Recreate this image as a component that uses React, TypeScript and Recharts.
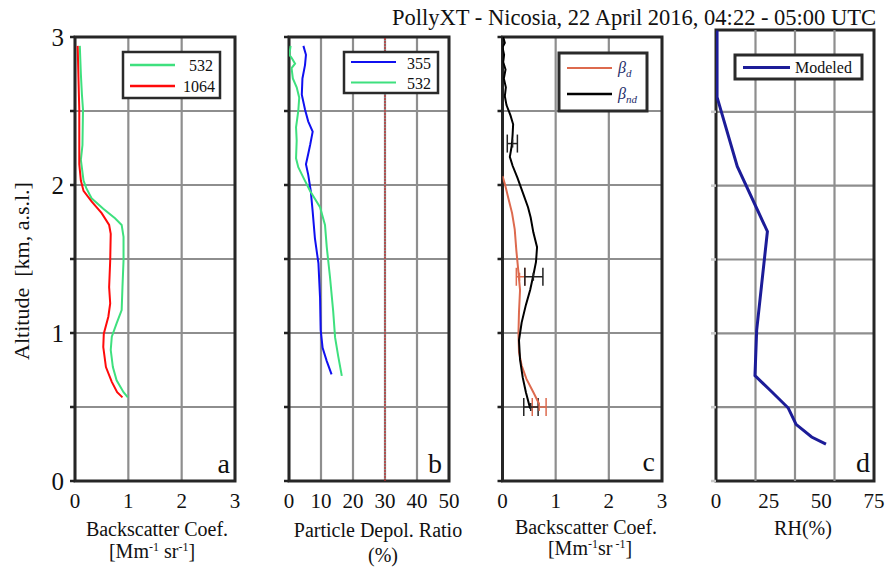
import React from 'react';
import {
  ScatterChart,
  Scatter,
  XAxis,
  YAxis,
  CartesianGrid,
  ReferenceLine,
  ReferenceArea,
  ErrorBar,
} from 'recharts';

const W = 885;
const H = 568;
const PLOT_BOTTOM = 481;
const FONT = '"Liberation Serif", "Times New Roman", serif';

// ---- tick labels ----
const altTicks = [0, 0.5, 1, 1.5, 2, 2.5, 3];
const altTicksD = [0, 0.5, 1, 1.5, 2, 2.5];
const bscTicks = [0, 1, 2, 3];
const depolTicks = [0, 10, 20, 30, 40, 50];
const rhTicks = [0, 25, 50, 75];
const rhGridLines = [18.75, 37.5, 56.25];

// ---- panel a: backscatter coefficient (Mm-1 sr-1) ----
const bsc532 = [
  { alt: 2.94, v: 0.09 }, { alt: 2.75, v: 0.11 }, { alt: 2.61, v: 0.13 }, { alt: 2.51, v: 0.15 },
  { alt: 2.27, v: 0.14 }, { alt: 2.17, v: 0.11 }, { alt: 2.03, v: 0.16 }, { alt: 1.98, v: 0.21 },
  { alt: 1.91, v: 0.31 }, { alt: 1.84, v: 0.53 }, { alt: 1.775, v: 0.75 }, { alt: 1.73, v: 0.875 },
  { alt: 1.65, v: 0.91 }, { alt: 1.49, v: 0.91 }, { alt: 1.31, v: 0.89 }, { alt: 1.155, v: 0.875 },
  { alt: 1.065, v: 0.78 }, { alt: 0.975, v: 0.69 }, { alt: 0.885, v: 0.67 }, { alt: 0.77, v: 0.71 },
  { alt: 0.68, v: 0.78 }, { alt: 0.6, v: 0.91 }, { alt: 0.565, v: 0.99 },
];
const bsc1064 = [
  { alt: 2.94, v: 0.05 }, { alt: 2.51, v: 0.08 }, { alt: 2.14, v: 0.08 }, { alt: 2.03, v: 0.11 },
  { alt: 1.96, v: 0.16 }, { alt: 1.89, v: 0.31 }, { alt: 1.81, v: 0.5 }, { alt: 1.73, v: 0.64 },
  { alt: 1.67, v: 0.67 }, { alt: 1.49, v: 0.66 }, { alt: 1.31, v: 0.64 }, { alt: 1.2, v: 0.66 },
  { alt: 1.11, v: 0.625 }, { alt: 0.995, v: 0.54 }, { alt: 0.905, v: 0.53 }, { alt: 0.77, v: 0.58 },
  { alt: 0.67, v: 0.69 }, { alt: 0.6, v: 0.79 }, { alt: 0.565, v: 0.89 },
];

// ---- panel b: particle depolarization ratio (%) ----
const depol355 = [
  { alt: 2.94, v: 4.5 }, { alt: 2.88, v: 5.3 }, { alt: 2.81, v: 5.0 }, { alt: 2.72, v: 4.2 },
  { alt: 2.61, v: 4.0 }, { alt: 2.51, v: 5.0 }, { alt: 2.43, v: 6.0 }, { alt: 2.36, v: 7.4 },
  { alt: 2.27, v: 6.6 }, { alt: 2.21, v: 6.0 }, { alt: 2.14, v: 5.3 }, { alt: 2.07, v: 6.0 },
  { alt: 1.96, v: 6.8 }, { alt: 1.82, v: 7.4 }, { alt: 1.64, v: 8.1 }, { alt: 1.47, v: 9.2 },
  { alt: 1.24, v: 9.7 }, { alt: 1.02, v: 9.9 }, { alt: 0.9, v: 10.5 }, { alt: 0.81, v: 11.8 },
  { alt: 0.72, v: 13.3 },
];
const depol532 = [
  { alt: 2.94, v: 0.5 }, { alt: 2.88, v: 0.1 }, { alt: 2.86, v: 0.8 }, { alt: 2.82, v: 1.9 },
  { alt: 2.79, v: 0.8 }, { alt: 2.72, v: 1.2 }, { alt: 2.66, v: 2.4 }, { alt: 2.59, v: 3.2 },
  { alt: 2.5, v: 2.9 }, { alt: 2.39, v: 2.2 }, { alt: 2.3, v: 2.4 }, { alt: 2.18, v: 2.2 },
  { alt: 2.12, v: 2.9 }, { alt: 2.05, v: 4.5 }, { alt: 1.96, v: 6.6 }, { alt: 1.85, v: 9.7 },
  { alt: 1.73, v: 11.25 }, { alt: 1.58, v: 11.8 }, { alt: 1.38, v: 12.8 }, { alt: 1.15, v: 13.8 },
  { alt: 0.97, v: 14.4 }, { alt: 0.84, v: 15.4 }, { alt: 0.71, v: 16.5 },
];

// ---- panel c: dust / non-dust backscatter ----
const betaD = [
  { alt: 2.06, v: 0.0 }, { alt: 2.0, v: 0.05 }, { alt: 1.91, v: 0.11 }, { alt: 1.81, v: 0.18 },
  { alt: 1.7, v: 0.23 }, { alt: 1.56, v: 0.26 }, { alt: 1.41, v: 0.3 }, { alt: 1.29, v: 0.33 },
  { alt: 1.14, v: 0.31 }, { alt: 1.0, v: 0.3 }, { alt: 0.87, v: 0.31 }, { alt: 0.78, v: 0.36 },
  { alt: 0.69, v: 0.45 }, { alt: 0.6, v: 0.58 }, { alt: 0.52, v: 0.69 },
];
const betaND = [
  { alt: 3.0, v: 0.013 }, { alt: 2.96, v: 0.044 }, { alt: 2.93, v: 0.0 }, { alt: 2.88, v: 0.03 },
  { alt: 2.83, v: 0.013 }, { alt: 2.78, v: 0.057 }, { alt: 2.72, v: 0.025 }, { alt: 2.66, v: 0.063 },
  { alt: 2.6, v: 0.044 }, { alt: 2.54, v: 0.075 }, { alt: 2.47, v: 0.15 }, { alt: 2.41, v: 0.2 },
  { alt: 2.34, v: 0.19 }, { alt: 2.27, v: 0.176 }, { alt: 2.19, v: 0.138 }, { alt: 2.13, v: 0.19 },
  { alt: 2.05, v: 0.28 }, { alt: 1.95, v: 0.38 }, { alt: 1.85, v: 0.48 }, { alt: 1.78, v: 0.53 },
  { alt: 1.68, v: 0.58 }, { alt: 1.58, v: 0.65 }, { alt: 1.48, v: 0.63 }, { alt: 1.39, v: 0.58 },
  { alt: 1.29, v: 0.52 }, { alt: 1.19, v: 0.44 }, { alt: 1.07, v: 0.36 }, { alt: 0.95, v: 0.31 },
  { alt: 0.82, v: 0.33 }, { alt: 0.7, v: 0.38 }, { alt: 0.6, v: 0.44 }, { alt: 0.49, v: 0.52 },
];
const betaDErr = [
  { alt: 1.38, v: 0.32, err: [0.06, 0.1] },
  { alt: 0.5, v: 0.69, err: [0.13, 0.13] },
];
const betaNDErr = [
  { alt: 2.28, v: 0.19, err: [0.1, 0.09] },
  { alt: 1.38, v: 0.58, err: [0.16, 0.18] },
  { alt: 0.5, v: 0.53, err: [0.13, 0.14] },
];

// ---- panel d: modeled relative humidity (%) ----
const rhModeled = [
  { alt: 3.05, v: 0.5 }, { alt: 2.6, v: 0.5 }, { alt: 2.13, v: 10.1 }, { alt: 1.69, v: 24.4 },
  { alt: 1.02, v: 19.3 }, { alt: 0.714, v: 18.5 }, { alt: 0.616, v: 25.6 }, { alt: 0.494, v: 34.3 },
  { alt: 0.384, v: 38 }, { alt: 0.298, v: 45.4 }, { alt: 0.25, v: 52.2 },
];

const GREEN = '#3ee07e';
const RED = '#ff0a0a';
const BLUE = '#1010f0';
const ORANGE = '#dd6a4e';
const NAVY = '#1c1c98';
const GRID = '#8e8e8e';
const FRAME = '#262626';
const BETA = '#1e2d6b';

const noDot = () => <g />;
const errTick = (color: string) => (p: any) =>
  <line x1={p.cx} x2={p.cx} y1={p.cy - 4} y2={p.cy + 4} stroke={color} strokeWidth={1.5} />;

type S = { data: { alt: number; v: number }[]; color: string; width: number };
type E = { data: { alt: number; v: number; err: number[] }[]; color: string };

function Panel(props: {
  x0: number; x1: number; top: number; xDomain: [number, number]; xTicks: number[];
  yMax: number; yTicks: number[]; series: S[]; errors?: E[]; extra?: React.ReactNode;
  showYLabels?: boolean; yTickColor?: string; vGrid?: boolean;
}) {
  const { x0, x1, top, xDomain, xTicks, yMax, yTicks, series, errors = [], extra, showYLabels, yTickColor = '#222', vGrid = true } = props;
  return (
    <div style={{ position: 'absolute', left: 0, top: 0 }}>
      <ScatterChart
        width={W}
        height={H}
        margin={{ top, right: W - x1, bottom: H - PLOT_BOTTOM - 30, left: x0 - 40 }}
      >
        <CartesianGrid stroke={GRID} strokeWidth={2.2} vertical={vGrid} />
        <XAxis
          type="number" dataKey="v" domain={xDomain} ticks={xTicks} allowDataOverflow
          axisLine={false} tickLine={false} height={30} tickMargin={6} interval={0}
          tick={{ fontSize: 21, fill: '#111', fontFamily: FONT }}
        />
        <YAxis
          type="number" dataKey="alt" domain={[0, yMax]} ticks={yTicks} allowDataOverflow
          width={40} axisLine={false} tickLine={{ stroke: yTickColor, strokeWidth: 2.5 }} tickSize={5}
          tickMargin={6} interval={0}
          tick={{ fontSize: 25, fill: '#111', fontFamily: FONT }}
          tickFormatter={(v: number) => (showYLabels && Number.isInteger(v) ? String(v) : '')}
        />
        {extra}
        {series.map((s, i) => (
          <Scatter
            key={'s' + i}
            data={s.data}
            fill={s.color}
            line={{ stroke: s.color, strokeWidth: s.width }}
            lineJointType="linear"
            shape={noDot}
            isAnimationActive={false}
          />
        ))}
        {errors.map((e, i) => (
          <Scatter
            key={'e' + i}
            data={e.data}
            fill={e.color}
            shape={errTick(e.color)}
            isAnimationActive={false}
          >
            <ErrorBar dataKey="err" direction="x" width={9} stroke={e.color} strokeWidth={1.5} isAnimationActive={false} />
          </Scatter>
        ))}
        <ReferenceArea
          x1={xDomain[0]} x2={xDomain[1]} y1={0} y2={yMax}
          fill="none" fillOpacity={0} stroke={FRAME} strokeWidth={3} ifOverflow="visible"
        />
      </ScatterChart>
    </div>
  );
}

function Overlay() {
  const t = { fontFamily: FONT, fill: '#111' } as const;
  const sup = { fontSize: 12, baselineShift: 'super' } as any;
  return (
    <svg width={W} height={H} style={{ position: 'absolute', left: 0, top: 0, pointerEvents: 'none' }}>
      <text x={876} y={25} textAnchor="end" fontSize={22.5} {...t}>
        PollyXT - Nicosia, 22 April 2016, 04:22 - 05:00 UTC
      </text>
      <text transform="translate(29,271) rotate(-90)" textAnchor="middle" fontSize={22} xmlSpace="preserve" {...t}>
        Altitude  [km, a.s.l.]
      </text>

      {/* axis titles */}
      <text x={157} y={536} textAnchor="middle" fontSize={20} {...t}>Backscatter Coef.</text>
      <text x={152} y={558} textAnchor="middle" fontSize={20} {...t}>
        [Mm<tspan style={sup}>-1</tspan> sr<tspan style={sup}>-1</tspan>]
      </text>
      <text x={378} y={537} textAnchor="middle" fontSize={20} {...t}>Particle Depol. Ratio</text>
      <text x={383} y={562} textAnchor="middle" fontSize={20} {...t}>(%)</text>
      <text x={586} y={534} textAnchor="middle" fontSize={20} {...t}>Backscatter Coef.</text>
      <text x={590} y={555} textAnchor="middle" fontSize={20} {...t}>
        [Mm<tspan style={sup}>-1</tspan>sr<tspan style={sup}> -1</tspan>]
      </text>
      <text x={803} y={535} textAnchor="middle" fontSize={20} {...t}>RH(%)</text>

      {/* panel letters */}
      <text x={230} y={473} textAnchor="end" fontSize={28} {...t}>a</text>
      <text x={442} y={473} textAnchor="end" fontSize={28} {...t}>b</text>
      <text x={655} y={471} textAnchor="end" fontSize={28} {...t}>c</text>
      <text x={870} y={472} textAnchor="end" fontSize={28} {...t}>d</text>

      {/* legend a */}
      <rect x={123} y={52} width={97} height={46} fill="#fff" stroke="#2a2a2a" strokeWidth={2.5} />
      <line x1={130} x2={175} y1={65} y2={65} stroke={GREEN} strokeWidth={2.5} />
      <line x1={130} x2={175} y1={86} y2={86} stroke={RED} strokeWidth={2.5} />
      <text x={213} y={71} textAnchor="end" fontSize={16} {...t}>532</text>
      <text x={215} y={92} textAnchor="end" fontSize={16} {...t}>1064</text>

      {/* legend b */}
      <rect x={344} y={52} width={94} height={41} fill="#fff" stroke="#2a2a2a" strokeWidth={2.5} />
      <line x1={351} x2={396} y1={62} y2={62} stroke={BLUE} strokeWidth={2} />
      <line x1={351} x2={396} y1={82.5} y2={82.5} stroke={GREEN} strokeWidth={2} />
      <text x={431} y={69} textAnchor="end" fontSize={16} {...t}>355</text>
      <text x={431} y={89} textAnchor="end" fontSize={16} {...t}>532</text>

      {/* legend c */}
      <rect x={559} y={53} width={88} height={58} fill="#fff" stroke="#2a2a2a" strokeWidth={3} />
      <line x1={567} x2={612} y1={68} y2={68} stroke={ORANGE} strokeWidth={2} />
      <line x1={567} x2={612} y1={94} y2={94} stroke="#000" strokeWidth={2.5} />
      <text x={618} y={73} fontSize={16} fontStyle="italic" fontFamily={FONT} fill={BETA}>
        β<tspan dy={4} fontSize={11}>d</tspan>
      </text>
      <text x={618} y={99} fontSize={16} fontStyle="italic" fontFamily={FONT} fill={BETA}>
        β<tspan dy={4} fontSize={11}>nd</tspan>
      </text>

      {/* legend d */}
      <rect x={735} y={55} width={127} height={24} fill="#fff" stroke="#2a2a2a" strokeWidth={3} />
      <line x1={743} x2={790} y1={67.5} y2={67.5} stroke={NAVY} strokeWidth={3} />
      <text x={795} y={73} fontSize={16} {...t}>Modeled</text>
    </svg>
  );
}

export default function App() {
  return (
    <div style={{ position: 'absolute', left: 0, top: 0, width: W, height: H, background: '#fff', fontFamily: FONT }}>
      <Panel
        x0={75} x1={235} top={37} xDomain={[0, 3]} xTicks={bscTicks} yMax={3} yTicks={altTicks}
        showYLabels
        series={[
          { data: bsc532, color: GREEN, width: 2 },
          { data: bsc1064, color: RED, width: 2 },
        ]}
      />
      <Panel
        x0={289} x1={449} top={37} xDomain={[0, 50]} xTicks={depolTicks} yMax={3} yTicks={altTicks}
        extra={<ReferenceLine x={30} stroke="#c62828" strokeWidth={1.2} strokeDasharray="2 1" />}
        series={[
          { data: depol355, color: BLUE, width: 2 },
          { data: depol532, color: GREEN, width: 2 },
        ]}
      />
      <Panel
        x0={502.5} x1={662} top={37} xDomain={[0, 3]} xTicks={bscTicks} yMax={3} yTicks={altTicks}
        series={[
          { data: betaD, color: ORANGE, width: 2 },
          { data: betaND, color: '#000', width: 2 },
        ]}
        errors={[
          { data: betaDErr, color: ORANGE },
          { data: betaNDErr, color: '#222' },
        ]}
      />
      <Panel
        x0={716} x1={874} top={30} xDomain={[0, 75]} xTicks={rhTicks} yMax={3.054} yTicks={altTicksD}
        yTickColor="#c8c8c8" vGrid={false}
        extra={rhGridLines.map((g) => (
          <ReferenceLine key={g} x={g} stroke={GRID} strokeWidth={2.2} />
        ))}
        series={[{ data: rhModeled, color: NAVY, width: 3 }]}
      />
      <Overlay />
    </div>
  );
}
